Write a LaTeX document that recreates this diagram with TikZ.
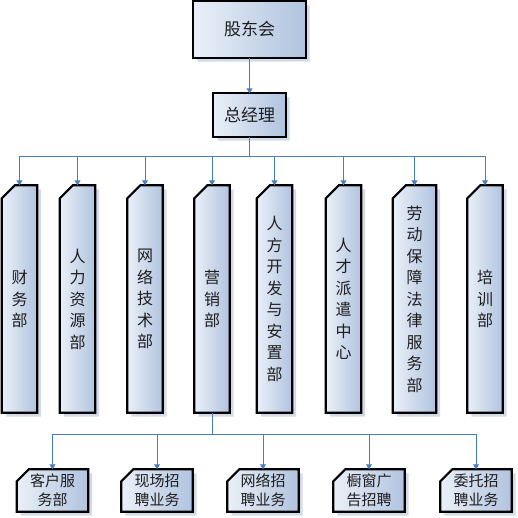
\documentclass[tikz,border=0pt]{standalone}
\usepackage{fontspec}
\newfontfamily\cjk{Noto Sans CJK SC}
\usetikzlibrary{calc,backgrounds,arrows.meta}
\definecolor{linec}{HTML}{4A7EBB}
\definecolor{fillL}{HTML}{EAF0F8}
\definecolor{fillR}{HTML}{B0C3DF}
\definecolor{shadc}{HTML}{D3DBE9}
\definecolor{txtc}{HTML}{1E1E1E}
\tikzset{
  boxbase/.style={rectangle, inner sep=0pt, text=txtc, align=center},
  topbox/.style={boxbase, minimum width=112pt, minimum height=56pt,
    font=\cjk\fontsize{17}{21}\selectfont},
  gmbox/.style={boxbase, minimum width=72pt, minimum height=43pt,
    font=\cjk\fontsize{17}{21}\selectfont},
  colbox/.style={boxbase, minimum width=#1, minimum height=227pt,
    font=\cjk\fontsize{16}{21.5}\selectfont},
  colbox/.default=35pt,
  subbox/.style={boxbase, minimum width=71pt, minimum height=42pt,
    font=\cjk\fontsize{15}{19}\selectfont},
  boxshade/.style={draw=black, line width=2.2pt, left color=fillL, right color=fillR},
  boxshadow/.style={fill=shadc},
  conn/.style={draw=linec, line width=1pt},
  arr/.style={conn, -{Triangle[width=6pt,length=5pt]}}
}
% shadow + shaded chamfered outline behind a named node
\newcommand\boxbg[2]{%
  \fill[boxshadow] ($(#1.south west)+(4,4)$) -- ($(#1.north west)+(4,#2+4)$)
    -- ($(#1.north west)+(#2+4,4)$) -- ($(#1.north east)+(4,4)$)
    -- ($(#1.south east)+(4,4)$) -- cycle;
  \path[boxshade] (#1.south west) -- ($(#1.north west)+(0,#2)$)
    -- ($(#1.north west)+(#2,0)$) -- (#1.north east)
    -- (#1.south east) -- cycle;}
\begin{document}
\begin{tikzpicture}[x=1pt,y=-1pt]
\useasboundingbox (0,0) rectangle (517,518);
\node[topbox] (top) at (249.5,29.5) {股东会};
\node[gmbox] (gm) at (249.5,115) {总经理};
\coordinate (bus) at (0,157);
\coordinate (bus2) at (0,434);

\node[colbox] (c1) at (19.5,299) {财\\务\\部};
\node[colbox] (c2) at (77.5,299) {人\\力\\资\\源\\部};
\node[colbox] (c3) at (145,299) {网\\络\\技\\术\\部};
\node[colbox] (c4) at (212,299) {营\\销\\部};
\node[colbox] (c5) at (274.5,299) {人\\方\\开\\发\\与\\安\\置\\部};
\node[colbox] (c6) at (343.5,299) {人\\才\\派\\遣\\中\\心};
\node[colbox=43pt] (c7) at (414.5,299) {劳\\动\\保\\障\\法\\律\\服\\务\\部};
\node[colbox] (c8) at (485,299) {培\\训\\部};

\node[subbox] (s1) at (52.5,490.5) {客户服\\务部};
\node[subbox] (s2) at (157,490.5) {现场招\\聘业务};
\node[subbox] (s3) at (263,490.5) {网络招\\聘业务};
\node[subbox] (s4) at (369,490.5) {橱窗广\\告招聘};
\node[subbox] (s5) at (476,490.5) {委托招\\聘业务};

\begin{scope}[on background layer]
  \boxbg{top}{0}
  \boxbg{gm}{0}
  \foreach \i in {1,...,8} {\boxbg{c\i}{13}}
  \foreach \i in {1,...,5} {\boxbg{s\i}{12}}
\end{scope}

\draw[arr] (top) -- (gm);
\foreach \i in {1,...,8}
  \draw[arr] (gm.south) -- (gm.south |- bus) -| (c\i.north);
\foreach \i in {1,...,5}
  \draw[arr] (c4.south) -- (c4.south |- bus2) -| (s\i.north);
\end{tikzpicture}
\end{document}
